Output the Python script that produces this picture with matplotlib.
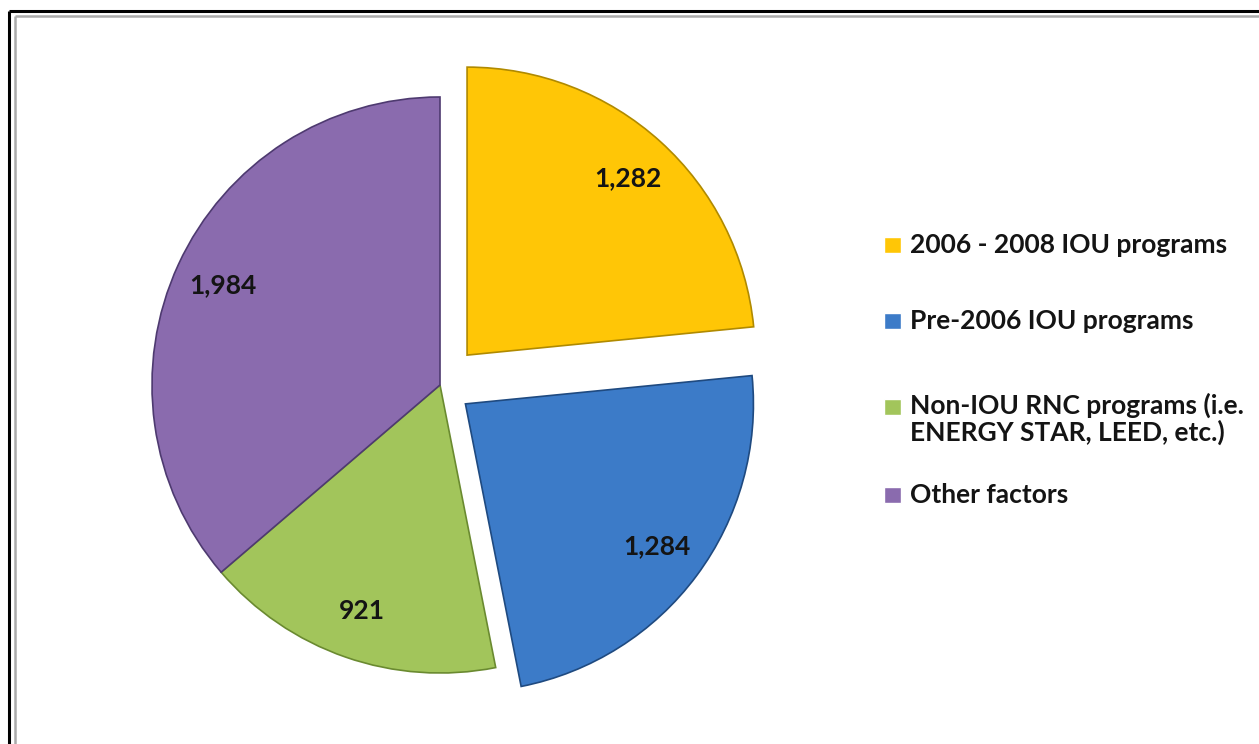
import matplotlib
matplotlib.use("Agg")
import matplotlib.pyplot as plt
from matplotlib.patches import Rectangle

# data
labels = ["2006 - 2008 IOU programs",
          "Pre-2006 IOU programs",
          "Non-IOU RNC programs (i.e.\nENERGY STAR, LEED, etc.)",
          "Other factors"]
values = [1282, 1284, 921, 1984]
colors = ["#FFC606", "#3C7BC8", "#A2C55B", "#8A6BAE"]
edges = ["#B08A00", "#1F4A80", "#6A8A30", "#4E3A70"]
explode = [0.14, 0.11, 0, 0]   # fraction of the radius

W, H = 1259, 744
plt.rcParams['font.family'] = ['Lato', 'DejaVu Sans']

fig = plt.figure(figsize=(W / 100, H / 100), dpi=100)
ax = fig.add_axes([0, 0, 1, 1])

# pie, working in pixel units (y up); pie's explode is in data units
cx, cy, r = 440, H - 385, 288
wedges, texts, autotexts = ax.pie(
    values, explode=[e * r for e in explode], colors=colors, startangle=90,
    counterclock=False, center=(cx, cy), radius=r,
    autopct=lambda p: '{:,}'.format(int(round(p * sum(values) / 100))),
    pctdistance=0.83, wedgeprops=dict(linewidth=1.2),
    textprops=dict(fontsize=19, fontweight='bold', color='#141414'))
for w, ec in zip(wedges, edges):
    w.set_edgecolor(ec)

ax.set_xlim(0, W)
ax.set_ylim(0, H)
ax.set_aspect('equal')
ax.axis('off')

# legend drawn by hand (rows are spaced unevenly in the original)
legend_y = [245, 321, 407, 495]
for lab, col, ec, y in zip(labels, colors, edges, legend_y):
    yy = H - y
    ax.add_patch(Rectangle((884, yy - 8), 17, 16, facecolor=col,
                           edgecolor='white', linewidth=1.0))
    nlines = lab.count('\n') + 1
    ax.text(910, yy + 14 if nlines > 1 else yy, lab, fontsize=19,
            fontweight='bold', color='#141414', va='top' if nlines > 1 else 'center',
            ha='left', linespacing=1.05)

# frame lines on the left and top edges
ax.plot([9.5, 9.5], [0, H - 11], color='black', lw=2.2, solid_capstyle='butt')
ax.plot([9.5, W], [H - 11, H - 11], color='black', lw=2.2, solid_capstyle='butt')
ax.plot([15.5, 15.5], [0, H - 16], color='#AAAAAA', lw=1.8, solid_capstyle='butt')
ax.plot([15.5, W], [H - 16, H - 16], color='#AAAAAA', lw=1.8, solid_capstyle='butt')

fig.savefig('out.png', dpi=100)
